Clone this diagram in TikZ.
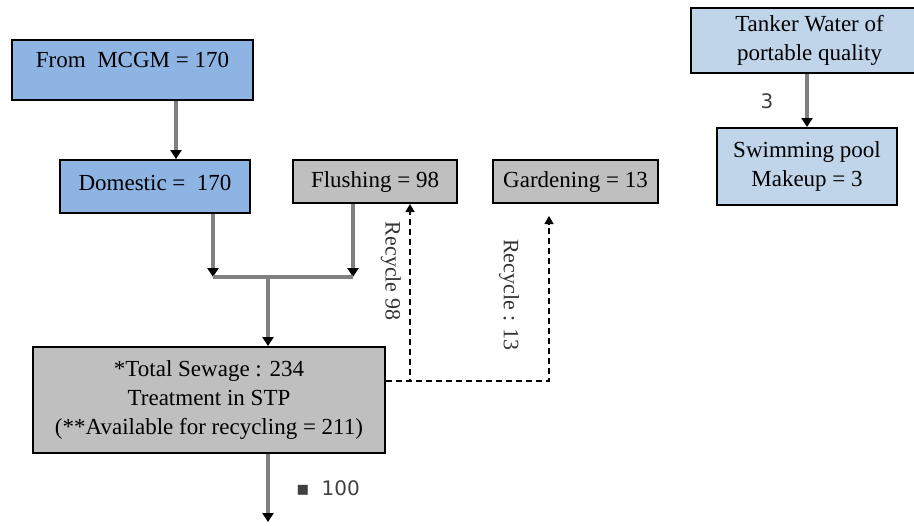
\documentclass[tikz,border=0pt]{standalone}
\usepackage{fontspec}
\setmainfont{Liberation Serif}
\newfontfamily\labelfont{DejaVu Sans}
\usepackage{xcolor}
\usepackage{tikz}
\usetikzlibrary{shapes, arrows.meta, positioning}

\definecolor{mainblue}{HTML}{8DB4E2}
\definecolor{paleblue}{HTML}{C0D4EA}
\definecolor{boxgray}{HTML}{BFBFBF}

\begin{document}
\begin{tikzpicture}[
        x=0.5pt, y=-0.5pt,
        node distance=0.4cm,
        box/.style={rectangle, draw, line width=1pt, align=center, font=\fontsize{11.5}{14.5}\selectfont, inner sep=0pt},
        arrow/.style={-{Triangle[length=4.5pt, width=5.5pt, color=black]}, draw=black!50, line width=1.7pt},
        line/.style={draw=black!50, line width=1.7pt},
        recycle/.style={-{Triangle[length=4pt, width=4.5pt]}, dashed, dash pattern=on 3pt off 2pt, line width=0.7pt},
        recycle_label/.style={rotate=-90, font=\fontsize{11}{13}\selectfont, text=black!80},
        side_label/.style={font=\labelfont\fontsize{10}{12}\selectfont, text=black!75}
    ]
    \useasboundingbox (0,0) rectangle (914,525);
    \node[box, fill=mainblue, minimum width=120.5pt, minimum height=30pt, text depth=10pt] (mcgm) at (132.5,70) {From~ MCGM = 170};
    \node[box, fill=mainblue, minimum width=95pt, minimum height=26.5pt, text depth=4pt] (domestic) at (155,186.5) {Domestic = ~170};
    \node[box, fill=boxgray, minimum width=82pt, minimum height=21.5pt] (flushing) at (375,181.5) {Flushing = 98};
    \node[box, fill=boxgray, minimum width=82.5pt, minimum height=21.5pt] (gardening) at (575.5,181.5) {Gardening = 13};
    \node[box, fill=paleblue, minimum width=118.5pt, minimum height=32.5pt] (tanker) at (809.5,40.5) {Tanker Water of\\portable quality};
    \node[box, fill=paleblue, minimum width=90pt, minimum height=38.5pt] (pool) at (807,166.5) {Swimming pool\\Makeup = 3};
    \node[box, fill=boxgray, minimum width=176pt, minimum height=53pt] (sewage) at (209,400) {*Total Sewage : 234\\Treatment in STP\\(**Available for recycling = 211)};
    \coordinate (merge) at (268,277);
    \coordinate (outlet) at (268,522);
    \coordinate (dom_out) at ([xshift=29pt]domestic.south);
    \coordinate (flush_out) at ([xshift=-11pt]flushing.south);
    \coordinate (flush_in) at ([xshift=17.5pt]flushing.south);
    \coordinate (garden_in) at ([yshift=-6pt, xshift=-13.25pt]gardening.south);
    \coordinate (stp_out) at (sewage.east |- 0,381);
    \coordinate (tanker_out) at ([xshift=-1.25pt]tanker.south);
    % supply
    \draw[arrow] ([xshift=21.75pt]mcgm.south) -- ([xshift=10.5pt]domestic.north);
    \draw[arrow] (dom_out) -- (merge -| dom_out);
    \draw[arrow] (flush_out) -- (merge -| flush_out);
    \draw[line] (merge -| dom_out) -- (merge -| flush_out);
    \draw[arrow] (merge) -- (merge |- sewage.north);
    \draw[arrow] (sewage.south -| merge) -- (outlet);
    \node[side_label, anchor=west] (out_label) at (289,488) {\textbf{▪}\hspace{6pt}100};
    % recycling
    \draw[recycle] (stp_out) -| (flush_in);
    \draw[recycle] (stp_out) -| (garden_in);
    \node[recycle_label] (recycle_flush) at (391,271) {Recycle 98};
    \node[recycle_label] (recycle_garden) at (509,295) {Recycle : 13};
    % tanker
    \draw[arrow] (tanker_out) -- (tanker_out |- pool.north);
    \node[side_label] (tanker_label) at (767,101) {3};
\end{tikzpicture}
\end{document}
